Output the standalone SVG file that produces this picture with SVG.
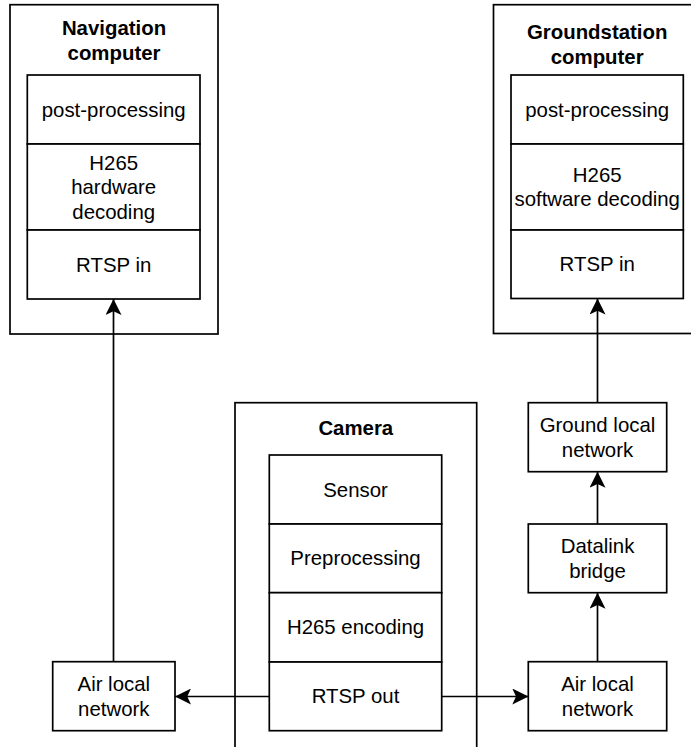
<svg xmlns="http://www.w3.org/2000/svg" width="691" height="747" viewBox="0 0 691 747">
  <style>
    .box { fill: #ffffff; stroke: #000000; stroke-width: 1.7; }
    .lbl { font-family: "Liberation Sans", Arial, Helvetica, sans-serif; font-size: 20.4px; fill: #000000; text-anchor: middle; }
    .ttl { font-family: "Liberation Sans", Arial, Helvetica, sans-serif; font-size: 20.4px; font-weight: bold; fill: #000000; text-anchor: middle; }
    .edge { fill: none; stroke: #000000; stroke-width: 1.7; }
  </style>
  <defs>
    <marker id="arrow" markerUnits="userSpaceOnUse" markerWidth="16" markerHeight="16" viewBox="0 0 15 15" refX="15" refY="7.5" orient="auto">
      <path d="M15,7.5 L0,0 L3.5,7.5 L0,15 Z" fill="#000000"/>
    </marker>
  </defs>

  <!-- Navigation computer -->
  <g id="nav-computer">
    <rect class="box" x="10" y="4.7" width="208" height="329.3"/>
    <text class="ttl" x="114" y="35">Navigation</text>
    <text class="ttl" x="114" y="59.5">computer</text>
  </g>
  <g id="nav-postprocessing">
    <rect class="box" x="27.3" y="75" width="172.7" height="69"/>
    <text class="lbl" x="113.7" y="116.6">post-processing</text>
  </g>
  <g id="nav-decoding">
    <rect class="box" x="27.3" y="144" width="172.7" height="86"/>
    <text class="lbl" x="113.7" y="169.5">H265</text>
    <text class="lbl" x="113.7" y="194">hardware</text>
    <text class="lbl" x="113.7" y="218.5">decoding</text>
  </g>
  <g id="nav-rtsp-in">
    <rect class="box" x="27.3" y="230" width="172.7" height="69"/>
    <text class="lbl" x="113.7" y="271.6">RTSP in</text>
  </g>

  <!-- Groundstation computer -->
  <g id="ground-computer">
    <rect class="box" x="493.5" y="4.7" width="208" height="328.8"/>
    <text class="ttl" x="597.2" y="39">Groundstation</text>
    <text class="ttl" x="597.2" y="63.5">computer</text>
  </g>
  <g id="ground-postprocessing">
    <rect class="box" x="511" y="75" width="172.3" height="69"/>
    <text class="lbl" x="597.2" y="116.6">post-processing</text>
  </g>
  <g id="ground-decoding">
    <rect class="box" x="511" y="144" width="172.3" height="86"/>
    <text class="lbl" x="597.2" y="181.8">H265</text>
    <text class="lbl" x="597.2" y="206.3">software decoding</text>
  </g>
  <g id="ground-rtsp-in">
    <rect class="box" x="511" y="230" width="172.3" height="68.5"/>
    <text class="lbl" x="597.2" y="271.4">RTSP in</text>
  </g>

  <!-- Camera -->
  <g id="camera">
    <rect class="box" x="235" y="402.7" width="241.7" height="360"/>
    <text class="ttl" x="355.8" y="435">Camera</text>
  </g>
  <g id="cam-sensor">
    <rect class="box" x="269.3" y="455" width="172.4" height="69"/>
    <text class="lbl" x="355.5" y="496.6">Sensor</text>
  </g>
  <g id="cam-preprocessing">
    <rect class="box" x="269.3" y="524" width="172.4" height="68.7"/>
    <text class="lbl" x="355.5" y="565.4">Preprocessing</text>
  </g>
  <g id="cam-encoding">
    <rect class="box" x="269.3" y="592.7" width="172.4" height="69.3"/>
    <text class="lbl" x="355.5" y="634.4">H265 encoding</text>
  </g>
  <g id="cam-rtsp-out">
    <rect class="box" x="269.3" y="662" width="172.4" height="68.7"/>
    <text class="lbl" x="355.5" y="703.4">RTSP out</text>
  </g>

  <!-- Network nodes -->
  <g id="air-net-left">
    <rect class="box" x="52.7" y="661.7" width="122.3" height="69"/>
    <text class="lbl" x="113.8" y="691">Air local</text>
    <text class="lbl" x="113.8" y="715.5">network</text>
  </g>
  <g id="air-net-right">
    <rect class="box" x="528.3" y="661.7" width="138.4" height="69"/>
    <text class="lbl" x="597.5" y="691">Air local</text>
    <text class="lbl" x="597.5" y="715.5">network</text>
  </g>
  <g id="datalink-bridge">
    <rect class="box" x="528.3" y="524" width="138.4" height="68.7"/>
    <text class="lbl" x="597.5" y="553.1">Datalink</text>
    <text class="lbl" x="597.5" y="577.6">bridge</text>
  </g>
  <g id="ground-net">
    <rect class="box" x="528.3" y="402.7" width="138.4" height="69"/>
    <text class="lbl" x="597.5" y="432">Ground local</text>
    <text class="lbl" x="597.5" y="456.5">network</text>
  </g>

  <!-- Connectors -->
  <g id="connectors">
    <path class="edge" d="M113.5,661.7 L113.5,299" marker-end="url(#arrow)"/>
    <path class="edge" d="M269.3,696.5 L175,696.5" marker-end="url(#arrow)"/>
    <path class="edge" d="M441.7,696.5 L528.3,696.5" marker-end="url(#arrow)"/>
    <path class="edge" d="M597.5,661.7 L597.5,592.7" marker-end="url(#arrow)"/>
    <path class="edge" d="M597.5,524 L597.5,471.7" marker-end="url(#arrow)"/>
    <path class="edge" d="M597.5,402.7 L597.5,298.5" marker-end="url(#arrow)"/>
  </g>
</svg>
